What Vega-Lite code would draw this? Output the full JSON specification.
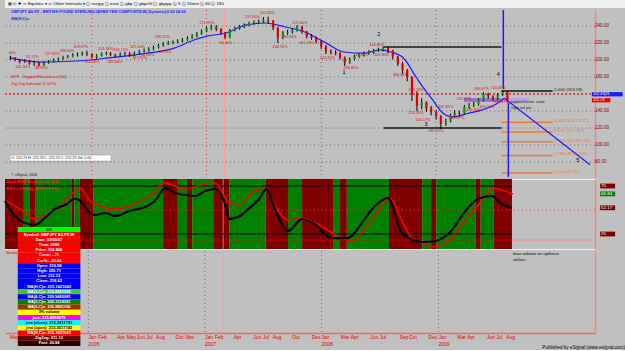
{
"$schema": "https://vega.github.io/schema/vega-lite/v6.json",
"background": "#c0c0c0",
"padding": 0,
"bounds": "flush",
"spacing": 2,
"resolve": {"scale": {"color": "independent"}},
"config": {"view": {"stroke": null}, "font": "Liberation Sans", "axis": {"labelOverlap": false, "labelBound": false}, "axisX": {"labels": false, "ticks": false, "domain": false, "grid": false, "title": null}},
"datasets": {
"px": [
{"d":"2005-04-16","o":203,"h":205,"l":200,"c":202},
{"d":"2005-05-01","o":202,"h":203.5,"l":198.5,"c":200},
{"d":"2005-05-16","o":200,"h":201,"l":196,"c":198},
{"d":"2005-06-01","o":198,"h":201,"l":196.5,"c":199},
{"d":"2005-06-16","o":199,"h":200,"l":194.5,"c":196},
{"d":"2005-07-01","o":196,"h":199,"l":193,"c":197},
{"d":"2005-07-16","o":197,"h":198,"l":192,"c":194},
{"d":"2005-08-01","o":194,"h":198.5,"l":193,"c":197},
{"d":"2005-08-16","o":197,"h":200,"l":195.5,"c":198},
{"d":"2005-09-01","o":198,"h":202,"l":197,"c":200},
{"d":"2005-09-16","o":200,"h":203,"l":198.5,"c":201},
{"d":"2005-10-01","o":201,"h":205,"l":200,"c":203},
{"d":"2005-10-16","o":203,"h":206,"l":202,"c":204},
{"d":"2005-11-01","o":204,"h":208,"l":203,"c":206},
{"d":"2005-11-16","o":206,"h":209,"l":204,"c":206.5},
{"d":"2005-12-01","o":206.5,"h":210,"l":205,"c":208},
{"d":"2005-12-16","o":208,"h":211,"l":204.5,"c":207},
{"d":"2006-01-01","o":207,"h":208,"l":202,"c":203.5},
{"d":"2006-01-16","o":203.5,"h":207,"l":201.5,"c":205},
{"d":"2006-02-01","o":205,"h":209,"l":204,"c":207},
{"d":"2006-02-16","o":207,"h":210,"l":205.5,"c":208},
{"d":"2006-03-01","o":208,"h":209.5,"l":204.5,"c":206},
{"d":"2006-03-16","o":206,"h":207.5,"l":203,"c":205},
{"d":"2006-04-01","o":205,"h":209,"l":204,"c":207},
{"d":"2006-04-16","o":207,"h":210,"l":205,"c":207.5},
{"d":"2006-05-01","o":207.5,"h":209.5,"l":203.5,"c":206},
{"d":"2006-05-16","o":206,"h":210,"l":204.5,"c":208},
{"d":"2006-06-01","o":208,"h":212,"l":206.5,"c":210},
{"d":"2006-06-16","o":210,"h":213.5,"l":208.5,"c":211},
{"d":"2006-07-01","o":211,"h":215,"l":209.5,"c":213},
{"d":"2006-07-16","o":213,"h":217,"l":211.5,"c":215},
{"d":"2006-08-01","o":215,"h":219,"l":213.5,"c":217},
{"d":"2006-08-16","o":217,"h":221,"l":215.5,"c":219},
{"d":"2006-09-01","o":219,"h":222.5,"l":217.5,"c":220},
{"d":"2006-09-16","o":220,"h":223,"l":218.5,"c":221},
{"d":"2006-10-01","o":221,"h":224.5,"l":219.5,"c":222},
{"d":"2006-10-16","o":222,"h":226,"l":220.5,"c":224},
{"d":"2006-11-01","o":224,"h":228,"l":222.5,"c":226},
{"d":"2006-11-16","o":226,"h":230.5,"l":224.5,"c":228},
{"d":"2006-12-01","o":228,"h":233,"l":226.5,"c":231},
{"d":"2006-12-16","o":231,"h":236,"l":229.5,"c":234},
{"d":"2007-01-01","o":234,"h":239.5,"l":232.5,"c":237},
{"d":"2007-01-16","o":237,"h":241.5,"l":235,"c":239},
{"d":"2007-02-01","o":239,"h":241,"l":234,"c":236},
{"d":"2007-02-16","o":236,"h":237.5,"l":230,"c":232},
{"d":"2007-03-01","o":232,"h":233,"l":224.5,"c":227},
{"d":"2007-03-16","o":227,"h":236.5,"l":225.5,"c":235},
{"d":"2007-04-01","o":235,"h":239,"l":233.5,"c":237},
{"d":"2007-04-16","o":237,"h":241,"l":235.5,"c":239},
{"d":"2007-05-01","o":239,"h":243,"l":237.5,"c":241},
{"d":"2007-05-16","o":241,"h":245,"l":239.5,"c":243},
{"d":"2007-06-01","o":243,"h":246.5,"l":241.5,"c":244},
{"d":"2007-06-16","o":244,"h":247.5,"l":242.5,"c":245},
{"d":"2007-07-01","o":245,"h":250.5,"l":243.5,"c":247},
{"d":"2007-07-16","o":247,"h":251,"l":243,"c":246},
{"d":"2007-08-01","o":246,"h":247,"l":235,"c":238},
{"d":"2007-08-16","o":238,"h":239,"l":220,"c":226},
{"d":"2007-09-01","o":226,"h":234,"l":224.5,"c":232},
{"d":"2007-09-16","o":232,"h":235.5,"l":229.5,"c":233},
{"d":"2007-10-01","o":233,"h":237.5,"l":231,"c":235},
{"d":"2007-10-16","o":235,"h":241,"l":233.5,"c":239},
{"d":"2007-11-01","o":239,"h":240,"l":231,"c":233},
{"d":"2007-11-16","o":233,"h":234.5,"l":225.5,"c":228},
{"d":"2007-12-01","o":228,"h":230.5,"l":223.5,"c":226},
{"d":"2007-12-16","o":226,"h":227.5,"l":219.5,"c":222},
{"d":"2008-01-01","o":222,"h":223,"l":213,"c":216},
{"d":"2008-01-16","o":216,"h":217.5,"l":207,"c":210},
{"d":"2008-02-01","o":210,"h":212.5,"l":206.5,"c":209},
{"d":"2008-02-16","o":209,"h":211.5,"l":205.5,"c":208},
{"d":"2008-03-01","o":208,"h":209.5,"l":200.5,"c":203},
{"d":"2008-03-16","o":203,"h":204,"l":193,"c":197},
{"d":"2008-04-01","o":197,"h":203,"l":195.5,"c":201},
{"d":"2008-04-16","o":201,"h":206,"l":199.5,"c":204},
{"d":"2008-05-01","o":204,"h":208,"l":202.5,"c":206},
{"d":"2008-05-16","o":206,"h":210,"l":204,"c":208},
{"d":"2008-06-01","o":208,"h":211.5,"l":206,"c":209},
{"d":"2008-06-16","o":209,"h":213,"l":207,"c":211},
{"d":"2008-07-01","o":211,"h":214.5,"l":209.5,"c":212},
{"d":"2008-07-16","o":212,"h":216,"l":210,"c":214},
{"d":"2008-08-01","o":214,"h":215,"l":208,"c":211},
{"d":"2008-08-16","o":211,"h":212,"l":200.5,"c":204},
{"d":"2008-09-01","o":204,"h":205,"l":193,"c":196},
{"d":"2008-09-16","o":196,"h":197.5,"l":184,"c":188},
{"d":"2008-10-01","o":188,"h":189.5,"l":175,"c":180},
{"d":"2008-10-16","o":180,"h":181,"l":152,"c":160},
{"d":"2008-11-01","o":160,"h":163,"l":140,"c":146},
{"d":"2008-11-16","o":146,"h":155,"l":142,"c":150},
{"d":"2008-12-01","o":150,"h":151.5,"l":139,"c":143},
{"d":"2008-12-16","o":143,"h":146,"l":135,"c":139},
{"d":"2009-01-01","o":139,"h":141,"l":130,"c":134},
{"d":"2009-01-16","o":134,"h":135,"l":119,"c":125},
{"d":"2009-02-01","o":125,"h":131,"l":122.5,"c":128},
{"d":"2009-02-16","o":128,"h":137,"l":126.5,"c":135},
{"d":"2009-03-01","o":135,"h":141,"l":133.5,"c":138},
{"d":"2009-03-16","o":138,"h":140.5,"l":133.5,"c":137},
{"d":"2009-04-01","o":137,"h":147,"l":135.5,"c":145},
{"d":"2009-04-16","o":145,"h":149.5,"l":142.5,"c":147},
{"d":"2009-05-01","o":147,"h":151,"l":144.5,"c":148},
{"d":"2009-05-16","o":148,"h":155,"l":146.5,"c":153},
{"d":"2009-06-01","o":153,"h":162,"l":151.5,"c":160},
{"d":"2009-06-16","o":160,"h":161.5,"l":154.5,"c":157},
{"d":"2009-07-01","o":157,"h":158.5,"l":152,"c":155},
{"d":"2009-07-16","o":155,"h":161,"l":153,"c":159},
{"d":"2009-08-01","o":159,"h":164,"l":157.5,"c":162},
{"d":"2009-08-16","o":162,"h":163.5,"l":151,"c":152.2}
],
"ma": [
{"d":"2005-04-15","v":202.4},{"d":"2005-07-17","v":197.6},{"d":"2005-11-12","v":198.8},{"d":"2006-02-23","v":202.4},{"d":"2006-06-05","v":207},{"d":"2006-09-20","v":214},{"d":"2006-11-22","v":223.5},{"d":"2007-01-02","v":228},{"d":"2007-03-04","v":231.8},{"d":"2007-05-05","v":241},{"d":"2007-07-07","v":243.5},{"d":"2007-09-09","v":238.8},{"d":"2007-11-10","v":233},{"d":"2008-01-12","v":221},{"d":"2008-03-14","v":209.4},{"d":"2008-05-15","v":208},{"d":"2008-07-08","v":211.8},{"d":"2008-08-09","v":209.4},{"d":"2008-09-19","v":202.4},{"d":"2008-10-29","v":180},{"d":"2008-11-20","v":168},{"d":"2008-12-21","v":153},{"d":"2009-01-22","v":137.6},{"d":"2009-02-23","v":133},{"d":"2009-04-16","v":137.6},{"d":"2009-05-26","v":141},{"d":"2009-07-06","v":147},{"d":"2009-08-07","v":155}
],
"trend": [{"d":"2009-08-07","v":155},{"d":"2010-05-06","v":76.9}],
"fib": [
{"v":163.58,"t":"0.000 (163.58)","k":"z"},
{"v":126.71722,"t":"0.382 (126.71722)","k":"f"},
{"v":115.355,"t":"0.500 (115.355)","k":"f"},
{"v":103.99278,"t":"0.618 (103.99278)","k":"f"},
{"v":87.81006,"t":"0.786 (87.81006)","k":"f"},
{"v":67.21,"t":"1.000 (67.21)","k":"f"}
],
"pct": [
{"d":"2005-04-22","p":208,"t":"34%"},
{"d":"2005-06-25","p":203.5,"t":"55.17%"},
{"d":"2005-05-26","p":192,"t":"141.32%"},
{"d":"2005-07-24","p":190.6,"t":"48.90%"},
{"d":"2005-08-28","p":207,"t":"227.87%"},
{"d":"2005-10-14","p":210.6,"t":"188.00%"},
{"d":"2005-11-27","p":215,"t":"209.97%"},
{"d":"2006-01-01","p":197.6,"t":"164.33%"},
{"d":"2006-02-14","p":213,"t":"201.36%"},
{"d":"2006-03-15","p":197.6,"t":"209.46%"},
{"d":"2006-04-03","p":211.8,"t":"226.17%"},
{"d":"2006-05-26","p":215,"t":"147.00%"},
{"d":"2006-06-02","p":202,"t":"167.87%"},
{"d":"2006-06-28","p":206,"t":"68.03%"},
{"d":"2006-08-13","p":227,"t":"249.21%"},
{"d":"2006-08-22","p":209,"t":"58.93%"},
{"d":"2007-01-02","p":243.5,"t":"271.99%"},
{"d":"2007-05-27","p":250.6,"t":"131.60%"},
{"d":"2007-07-13","p":255,"t":"141.60%"},
{"d":"2007-03-04","p":220,"t":"84.40%"},
{"d":"2007-08-23","p":215.3,"t":"446.33%"},
{"d":"2007-10-25","p":243.5,"t":"129.64%"},
{"d":"2007-09-24","p":227,"t":"90.44%"},
{"d":"2007-11-16","p":220,"t":"161.18%"},
{"d":"2008-01-21","p":202,"t":"243.35%"},
{"d":"2008-04-05","p":190.6,"t":"266.80%"},
{"d":"2008-05-06","p":206,"t":"118.30%"},
{"d":"2008-06-26","p":217.6,"t":"164.80%"},
{"d":"2008-07-11","p":206,"t":"226.80%"},
{"d":"2008-09-09","p":182.4,"t":"368.06%"},
{"d":"2008-10-29","p":164.7,"t":"213.13%"},
{"d":"2008-10-29","p":137.6,"t":"270.29%"},
{"d":"2008-11-20","p":129,"t":"145.17%"},
{"d":"2008-12-31","p":116.5,"t":"185.12%"},
{"d":"2009-02-01","p":144.7,"t":"187.82%"},
{"d":"2009-03-08","p":131.8,"t":"169.07%"},
{"d":"2009-03-31","p":154,"t":"155.66%"},
{"d":"2009-05-01","p":141,"t":"149.34%"},
{"d":"2009-05-26","p":166,"t":"249.67%"},
{"d":"2009-07-18","p":167,"t":"720.69%"},
{"d":"2009-06-11","p":145,"t":"160.00%"},
{"d":"2009-07-27","p":150.6,"t":"102.57%"}
],
"nums": [
{"d":"2008-03-14","p":182.4,"t":"1"},{"d":"2008-07-02","p":227,"t":"2"},{"d":"2008-11-30","p":121,"t":"3"},{"d":"2009-07-18","p":180,"t":"4"},{"d":"2010-03-28","p":79,"t":"5"}
],
"blk": [
{"d":"2005-04-15","v":59.4},{"d":"2005-05-16","v":43.8},{"d":"2005-06-16","v":36.5},{"d":"2005-07-17","v":34.4},{"d":"2005-08-18","v":41.7},{"d":"2005-09-18","v":51},{"d":"2005-10-20","v":55.2},{"d":"2005-11-21","v":61.5},{"d":"2005-12-07","v":59.4},{"d":"2006-01-07","v":46.9},{"d":"2006-01-23","v":44.8},{"d":"2006-02-23","v":46.9},{"d":"2006-03-24","v":43.8},{"d":"2006-05-10","v":49},{"d":"2006-06-27","v":53.1},{"d":"2006-07-28","v":59.4},{"d":"2006-08-29","v":72.9},{"d":"2006-09-29","v":67.7},{"d":"2006-10-30","v":65.6},{"d":"2006-12-01","v":64.6},{"d":"2007-01-02","v":69.8},{"d":"2007-02-02","v":71.9},{"d":"2007-03-04","v":57.3},{"d":"2007-03-19","v":40.6},{"d":"2007-04-20","v":43.8},{"d":"2007-05-21","v":52.1},{"d":"2007-06-22","v":62.5},{"d":"2007-07-13","v":71.9},{"d":"2007-08-08","v":51},{"d":"2007-09-18","v":28.1},{"d":"2007-11-01","v":40.6},{"d":"2007-12-05","v":36.5},{"d":"2008-02-03","v":20.8},{"d":"2008-03-23","v":20.8},{"d":"2008-05-06","v":36.5},{"d":"2008-06-16","v":54.2},{"d":"2008-07-27","v":62.5},{"d":"2008-09-09","v":26},{"d":"2008-11-11","v":16.7},{"d":"2008-12-21","v":17.7},{"d":"2009-02-01","v":25},{"d":"2009-04-03","v":52.1},{"d":"2009-05-04","v":61.5},{"d":"2009-06-17","v":64.6},{"d":"2009-07-18","v":56.3},{"d":"2009-08-19","v":52.1}
],
"red": [
{"d":"2005-04-15","v":60.4},{"d":"2005-06-01","v":51},{"d":"2005-07-17","v":40.6},{"d":"2005-09-03","v":46.9},{"d":"2005-10-04","v":54.2},{"d":"2005-11-21","v":69.8},{"d":"2005-12-07","v":72.9},{"d":"2006-01-07","v":59.4},{"d":"2006-03-24","v":51},{"d":"2006-05-10","v":54.2},{"d":"2006-07-12","v":64.6},{"d":"2006-08-29","v":78.1},{"d":"2006-10-30","v":71.9},{"d":"2007-01-02","v":77.1},{"d":"2007-02-02","v":78.1},{"d":"2007-03-19","v":57.3},{"d":"2007-04-20","v":56.3},{"d":"2007-06-06","v":69.8},{"d":"2007-07-13","v":71.9},{"d":"2007-08-08","v":54.2},{"d":"2007-09-18","v":39.6},{"d":"2007-11-01","v":41.7},{"d":"2007-12-21","v":35.4},{"d":"2008-02-13","v":24},{"d":"2008-04-05","v":17.7},{"d":"2008-05-15","v":30.2},{"d":"2008-06-26","v":49},{"d":"2008-08-02","v":62.5},{"d":"2008-09-09","v":38.5},{"d":"2008-10-10","v":20.8},{"d":"2008-11-20","v":14.6},{"d":"2008-12-21","v":11.5},{"d":"2009-02-01","v":17.7},{"d":"2009-03-24","v":38.5},{"d":"2009-05-16","v":59.4},{"d":"2009-06-20","v":72.9},{"d":"2009-07-27","v":69.8},{"d":"2009-08-22","v":66.7}
],
"stripes": [
{"a":"2005-04-15","b":"2005-06-13","c":"R"},{"a":"2005-06-13","b":"2005-07-02","c":"G"},{"a":"2005-07-02","b":"2005-07-20","c":"R"},{"a":"2005-07-20","b":"2005-11-09","c":"G"},{"a":"2005-11-09","b":"2005-11-18","c":"R"},{"a":"2005-11-18","b":"2005-12-04","c":"G"},{"a":"2005-12-04","b":"2006-01-16","c":"R"},{"a":"2006-01-16","b":"2006-08-23","c":"G"},{"a":"2006-08-23","b":"2006-10-08","c":"R"},{"a":"2006-10-08","b":"2006-11-06","c":"G"},{"a":"2006-11-06","b":"2006-11-22","c":"R"},{"a":"2006-11-22","b":"2007-01-27","c":"G"},{"a":"2007-01-27","b":"2007-03-19","c":"R"},{"a":"2007-03-19","b":"2007-07-10","c":"G"},{"a":"2007-07-10","b":"2007-09-18","c":"R"},{"a":"2007-09-18","b":"2007-11-01","c":"G"},{"a":"2007-11-01","b":"2008-02-06","c":"R"},{"a":"2008-02-06","b":"2008-02-28","c":"G"},{"a":"2008-02-28","b":"2008-03-20","c":"R"},{"a":"2008-03-20","b":"2008-07-30","c":"G"},{"a":"2008-07-30","b":"2008-11-11","c":"R"},{"a":"2008-11-11","b":"2008-12-09","c":"G"},{"a":"2008-12-09","b":"2008-12-25","c":"R"},{"a":"2008-12-25","b":"2009-04-28","c":"G"},{"a":"2009-04-28","b":"2009-05-13","c":"R"},{"a":"2009-05-13","b":"2009-06-23","c":"G"},{"a":"2009-06-23","b":"2009-08-19","c":"R"}
],
"popup": [
{"i":1,"t":"OK","b":"ok"},{"i":2,"t":"Symbol: GBPJPY A0-FX,W","b":"red"},{"i":3,"t":"Date: 03/05/07","b":"red"},{"i":4,"t":"Time: 0000","b":"red"},{"i":5,"t":"Price: 118.806","b":"red"},{"i":6,"t":"Cursr: -.71","b":"red"},{"i":7,"t":"Cur%: -20.44","b":"red"},{"i":8,"t":"Open: 219.58","b":"blue"},{"i":9,"t":"High: 220.71","b":"blue"},{"i":10,"t":"Low: 211.13","b":"blue"},{"i":11,"t":"Close: 218.62","b":"blue"},{"i":12,"t":"MA(H,C)x: 215.1621643","b":"blue"},{"i":13,"t":"MA(3,C)x: 216.8661556","b":"lgreen"},{"i":14,"t":"MA(4,C)x: 220.9460081","b":"blue2"},{"i":15,"t":"MA(5,C)x: 222.3119181","b":"dgreen"},{"i":16,"t":"MA(6,C)x: 216.8801156","b":"brown"},{"i":17,"t":"3% volume","b":"yellow"},{"i":18,"t":"jma: 215.4994678","b":"magenta"},{"i":19,"t":"jma (close): 215.2411783","b":"cyan"},{"i":20,"t":"jma (open): 215.3517743","b":"yellow"},{"i":21,"t":"MA(H,C)x: 215.3621643","b":"red"},{"i":22,"t":"ZigZag: 211.13","b":"maroon"},{"i":23,"t":"Fast: 26.84","b":"dark"}
],
"pbox": [
{"a":"2010-05-12","b":"2010-08-18","y1":157.2,"y2":162.2,"m":159.8,"t":"152.43|21","k":"blue"},
{"a":"2010-05-12","b":"2010-07-10","y1":150.2,"y2":155.2,"m":152.7,"t":"152.23","k":"red"}
],
"obox": [
{"y1":72.5,"y2":77.5,"m":75,"t":"75","k":"black"},
{"y1":64.3,"y2":69.3,"m":66.8,"t":"66.84","k":"red"},
{"y1":49.8,"y2":54.8,"m":52.3,"t":"52.17","k":"black"},
{"y1":22.5,"y2":27.5,"m":25,"t":"25","k":"black"}
],
"plab": [{"p":80},{"p":100},{"p":120},{"p":140},{"p":180},{"p":200},{"p":220},{"p":240}],
"pgrid": [{"p":80},{"p":100},{"p":120},{"p":140},{"p":160},{"p":180},{"p":200},{"p":220},{"p":240}],
"months": [
{"d":"2005-05-01"},{"d":"2006-01-01"},{"d":"2006-02-01"},{"d":"2006-04-01"},{"d":"2006-05-01"},{"d":"2006-06-01"},{"d":"2006-07-01"},{"d":"2006-08-01"},{"d":"2006-10-01"},{"d":"2006-11-01"},{"d":"2007-01-01"},{"d":"2007-02-01"},{"d":"2007-04-01"},{"d":"2007-06-01"},{"d":"2007-07-01"},{"d":"2007-08-01"},{"d":"2007-10-01"},{"d":"2007-12-01"},{"d":"2008-01-01"},{"d":"2008-03-01"},{"d":"2008-04-01"},{"d":"2008-06-01"},{"d":"2008-07-01"},{"d":"2008-09-01"},{"d":"2008-10-01"},{"d":"2008-12-01"},{"d":"2009-01-01"},{"d":"2009-03-01"},{"d":"2009-04-01"},{"d":"2009-06-01"},{"d":"2009-07-01"},{"d":"2009-08-01"}
]
},
"vconcat": [
{
"width": 625, "height": 8,
"view": {"fill": "#f0f0f0", "stroke": null},
"data": {"values": [{"t": "▦ ⎘ ✚   ▭ Equities ▾    ▭ Other Intervals ▾    ⓘ eurjpy    ⓘ euro    ⓘ gbp    ⓘ gbpchf    ⓘ gbpjpy    ⓢ 5    ⓢ 15min    ⓢ 60    ⓢ 180"}]},
"mark": {"type": "text", "align": "left", "baseline": "middle", "fontSize": 4.4, "color": "#000000", "dx": 3},
"encoding": {
"text": {"field": "t"},
"x": {"datum": 0, "type": "quantitative", "scale": {"domain": [0, 1]}, "axis": null},
"y": {"datum": 0.5, "type": "quantitative", "scale": {"domain": [0, 1]}, "axis": null}
}
},
{
"width": 590, "height": 167,
"view": {"fill": "#c0c0c0", "stroke": null},
"layer": [
{"data": {"name": "pgrid"}, "mark": {"type": "rule", "color": "#6a6a6a", "strokeDash": [1, 3], "strokeWidth": 1},
 "encoding": {"y": {"field": "p", "type": "quantitative", "scale": {"domain": [62.4, 258.8], "nice": false, "zero": false},
   "axis": {"orient": "right", "labels": false, "ticks": false, "domain": true, "domainColor": "#ff8080", "domainWidth": 1.5, "grid": false, "title": null}}}},
{"data": {"values": [{"d":"2006-01-01"},{"d":"2007-01-01"},{"d":"2008-01-01"},{"d":"2009-01-01"}]},
 "mark": {"type": "rule", "strokeDash": [1, 3], "strokeWidth": 1},
 "encoding": {"x": {"field": "d", "type": "temporal", "scale": {"domain": [{"year":2005,"month":4,"date":15},{"year":2010,"month":5,"date":6}]}},
  "color": {"condition": {"test": "year(datum.d) < 2008", "value": "#c05050"}, "value": "#707070"}}},
{"data": {"values": [{}]}, "mark": {"type": "rule", "color": "#ff9a9a", "strokeWidth": 1},
 "encoding": {"x": {"datum": {"year":2007,"month":2,"date":27}, "type": "temporal"}}},
{"data": {"values": [{}]}, "mark": {"type": "rule", "color": "#e00000", "strokeDash": [2, 2]},
 "encoding": {"y": {"datum": 160, "type": "quantitative"}}},
{"data": {"values": [{}]}, "mark": {"type": "rect", "color": "#9b6fd6"},
 "encoding": {"x": {"datum": {"year":2009,"month":3,"date":31}, "type": "temporal"}, "x2": {"datum": {"year":2009,"month":8,"date":1}},
  "y": {"datum": 150.6, "type": "quantitative"}, "y2": {"datum": 155.3}}},
{"data": {"values": [{}]}, "mark": {"type": "rect", "color": "#b9a0e6"},
 "encoding": {"x": {"datum": {"year":2009,"month":8,"date":1}, "type": "temporal"}, "x2": {"datum": {"year":2009,"month":10,"date":23}},
  "y": {"datum": 150.6, "type": "quantitative"}, "y2": {"datum": 155.3}}},
{"data": {"values": [{"v": 215.3}, {"v": 120}]}, "mark": {"type": "rule", "color": "#1a1a1a", "strokeWidth": 1.6},
 "encoding": {"x": {"datum": {"year":2008,"month":7,"date":18}, "type": "temporal"}, "x2": {"datum": {"year":2009,"month":7,"date":28}},
  "y": {"field": "v", "type": "quantitative"}}},
{"data": {"name": "fib"}, "mark": {"type": "rule", "strokeWidth": 1.5},
 "encoding": {"x": {"datum": {"year":2009,"month":7,"date":28}, "type": "temporal"}, "x2": {"datum": {"year":2010,"month":1,"date":7}},
  "y": {"field": "v", "type": "quantitative"},
  "color": {"condition": {"test": "datum.k == 'z'", "value": "#111111"}, "value": "#f07a30"}}},
{"data": {"name": "fib"}, "mark": {"type": "text", "align": "left", "baseline": "middle", "fontSize": 4.3, "dx": 1, "dy": -1},
 "encoding": {"x": {"datum": {"year":2010,"month":1,"date":9}, "type": "temporal"},
  "y": {"field": "v", "type": "quantitative"}, "text": {"field": "t"},
  "color": {"condition": {"test": "datum.k == 'z'", "value": "#111111"}, "value": "#f07a30"}}},
{"data": {"name": "ma"}, "mark": {"type": "line", "color": "#1a1aff", "strokeWidth": 1.2, "interpolate": "monotone"},
 "encoding": {"x": {"field": "d", "type": "temporal"}, "y": {"field": "v", "type": "quantitative"}}},
{"data": {"name": "trend"}, "mark": {"type": "line", "color": "#1a1aff", "strokeWidth": 1.2},
 "encoding": {"x": {"field": "d", "type": "temporal"}, "y": {"field": "v", "type": "quantitative"}}},
{"data": {"name": "px"}, "mark": {"type": "rule", "color": "#000000", "strokeWidth": 1},
 "encoding": {"x": {"field": "d", "type": "temporal"}, "y": {"field": "l", "type": "quantitative"}, "y2": {"field": "h"}}},
{"data": {"name": "px"}, "mark": {"type": "bar", "size": 2.2},
 "encoding": {"x": {"field": "d", "type": "temporal"},
  "y": {"field": "o", "type": "quantitative"}, "y2": {"field": "c"},
  "color": {"condition": {"test": "datum.c >= datum.o", "value": "#00a000"}, "value": "#e00000"}}},
{"data": {"values": [{}]}, "mark": {"type": "rule", "color": "#1a1aff", "strokeWidth": 1.5},
 "encoding": {"x": {"datum": {"year":2009,"month":8,"date":3}, "type": "temporal"},
  "y": {"datum": 258.8, "type": "quantitative"}, "y2": {"datum": 166}}},
{"data": {"values": [{}]}, "mark": {"type": "rule", "color": "#1a1aff", "strokeWidth": 1.5},
 "encoding": {"x": {"datum": {"year":2009,"month":8,"date":19}, "type": "temporal"},
  "y": {"datum": 150, "type": "quantitative"}, "y2": {"datum": 62.4}}},
{"data": {"name": "pct"}, "mark": {"type": "text", "color": "#e00000", "fontSize": 3.8, "align": "center", "baseline": "middle"},
 "encoding": {"x": {"field": "d", "type": "temporal"}, "y": {"field": "p", "type": "quantitative"}, "text": {"field": "t"}}},
{"data": {"name": "nums"}, "mark": {"type": "text", "color": "#000000", "fontSize": 5.5, "align": "center", "baseline": "bottom"},
 "encoding": {"x": {"field": "d", "type": "temporal"}, "y": {"field": "p", "type": "quantitative"}, "text": {"field": "t"}}},
{"data": {"values": [{"d":"2005-04-16","p":256.5,"t":"GBPJPY A0-FX - BRITISH POUND STERLING/JAPAN YEN COMPOSITE,W| Dynamic|,0:00 24:00"},{"d":"2005-04-16","p":248.2,"t":"MA(H,C)x"}]},
 "mark": {"type": "text", "color": "#1a1aff", "fontSize": 3.9, "fontWeight": "bold", "align": "left", "baseline": "middle", "dx": 1},
 "encoding": {"x": {"field": "d", "type": "temporal"}, "y": {"field": "p", "type": "quantitative"}, "text": {"field": "t"}}},
{"data": {"values": [{"d":"2005-04-16","p":180,"t":"MTF - Support/Resistance (60)"},{"d":"2005-04-16","p":171.8,"t":"Zig Zag Indicator (1.50%)"}]},
 "mark": {"type": "text", "color": "#e00000", "fontSize": 4, "align": "left", "baseline": "middle", "dx": 1},
 "encoding": {"x": {"field": "d", "type": "temporal"}, "y": {"field": "p", "type": "quantitative"}, "text": {"field": "t"}}},
{"data": {"values": [{"d":"2009-08-28","p":143.5,"t":"high vol pin"},{"d":"2009-08-24","p":150.5,"t":"support/resist. zone"}]},
 "mark": {"type": "text", "color": "#202020", "fontSize": 4, "align": "left", "baseline": "middle"},
 "encoding": {"x": {"field": "d", "type": "temporal"}, "y": {"field": "p", "type": "quantitative"}, "text": {"field": "t"}}},
{"data": {"values": [{}]}, "mark": {"type": "rect", "color": "#ffffff", "stroke": "#909090", "strokeWidth": 0.5},
 "encoding": {"x": {"datum": {"year":2005,"month":4,"date":15}, "type": "temporal"}, "x2": {"datum": {"year":2006,"month":3,"date":3}},
  "y": {"datum": 81.2, "type": "quantitative"}, "y2": {"datum": 88.2}}},
{"data": {"values": [{"d":"2005-04-16","p":84.7,"t":"O: 152.23    H: 152.23    L: 152.23    C: 152.23    Vol: 0.00"},{"d":"2005-04-16","p":64.7,"t":"© eSignal, 2008"}]},
 "mark": {"type": "text", "color": "#202020", "fontSize": 3.6, "align": "left", "baseline": "middle", "dx": 1},
 "encoding": {"x": {"field": "d", "type": "temporal"}, "y": {"field": "p", "type": "quantitative"}, "text": {"field": "t"}}},
{"data": {"name": "plab"}, "mark": {"type": "text", "color": "#8b0000", "fontSize": 4.6, "align": "left", "baseline": "middle", "dx": 5},
 "encoding": {"x": {"datum": {"year":2010,"month":5,"date":6}, "type": "temporal"}, "y": {"field": "p", "type": "quantitative"}, "text": {"field": "p", "type": "quantitative", "format": ".2f"}}},
{"data": {"name": "pbox"}, "mark": {"type": "rect"},
 "encoding": {"x": {"field": "a", "type": "temporal"}, "x2": {"field": "b"},
  "y": {"field": "y1", "type": "quantitative"}, "y2": {"field": "y2"},
  "color": {"field": "k", "type": "nominal", "scale": {"domain": ["blue", "red"], "range": ["#1a1aff", "#ee0000"]}, "legend": null}}},
{"data": {"name": "pbox"}, "mark": {"type": "text", "color": "#ffffff", "fontSize": 3.8, "align": "left", "baseline": "middle", "dx": 1},
 "encoding": {"x": {"field": "a", "type": "temporal"}, "y": {"field": "m", "type": "quantitative"}, "text": {"field": "t"}}}
]
},
{
"width": 590, "height": 70,
"view": {"fill": "#c0c0c0", "stroke": "#f4f4f4", "strokeWidth": 1},
"layer": [
{"data": {"name": "stripes"}, "mark": {"type": "rect"},
 "encoding": {"x": {"field": "a", "type": "temporal", "scale": {"domain": [{"year":2005,"month":4,"date":15},{"year":2010,"month":5,"date":6}]}},
  "x2": {"field": "b"},
  "color": {"field": "c", "type": "nominal", "scale": {"domain": ["R", "G"], "range": ["#800000", "#008000"]}, "legend": null}}},
{"data": {"values": [{}]}, "mark": {"type": "rule", "color": "#ff9a9a", "strokeWidth": 1, "opacity": 0.7},
 "encoding": {"x": {"datum": {"year":2007,"month":2,"date":27}, "type": "temporal"}}},
{"data": {"values": [{"v": 75}, {"v": 25}]}, "mark": {"type": "rule", "color": "#000000", "strokeWidth": 1},
 "encoding": {"x": {"datum": {"year":2005,"month":4,"date":15}, "type": "temporal"}, "x2": {"datum": {"year":2009,"month":8,"date":19}},
  "y": {"field": "v", "type": "quantitative", "scale": {"domain": [9.4, 82.3], "nice": false, "zero": false},
   "axis": {"orient": "right", "labels": false, "ticks": false, "domain": true, "domainColor": "#ff8080", "domainWidth": 1.5, "grid": false, "title": null}}}},
{"data": {"values": [{"v": 50}, {"v": 18.75}]}, "mark": {"type": "rule", "color": "#ff3030", "strokeDash": [1, 3]},
 "encoding": {"y": {"field": "v", "type": "quantitative"}}},
{"data": {"name": "red"}, "mark": {"type": "line", "color": "#ff0000", "strokeWidth": 1.5, "interpolate": "monotone"},
 "encoding": {"x": {"field": "d", "type": "temporal"}, "y": {"field": "v", "type": "quantitative"}}},
{"data": {"name": "blk"}, "mark": {"type": "line", "color": "#000000", "strokeWidth": 2.2, "interpolate": "monotone"},
 "encoding": {"x": {"field": "d", "type": "temporal"}, "y": {"field": "v", "type": "quantitative"}}},
{"data": {"values": [{"d":"2005-04-16","v":79.2,"t":"Jurik RSX Divergence (21)"},{"d":"2005-04-16","v":72.4,"t":"RSX + trailing SMA(11,2,0,)"}]},
 "mark": {"type": "text", "color": "#ff2020", "fontSize": 4.2, "fontWeight": "bold", "align": "left", "baseline": "middle", "dx": 1},
 "encoding": {"x": {"field": "d", "type": "temporal"}, "y": {"field": "v", "type": "quantitative"}, "text": {"field": "t"}}},
{"data": {"name": "obox"}, "mark": {"type": "rect"},
 "encoding": {"x": {"datum": {"year":2010,"month":5,"date":22}, "type": "temporal"}, "x2": {"datum": {"year":2010,"month":7,"date":8}},
  "y": {"field": "y1", "type": "quantitative"}, "y2": {"field": "y2"},
  "color": {"field": "k", "type": "nominal", "scale": {"domain": ["black", "red"], "range": ["#000000", "#ee0000"]}, "legend": null}}},
{"data": {"name": "obox"}, "mark": {"type": "text", "color": "#ffffff", "fontSize": 4.4, "align": "left", "baseline": "middle", "dx": 1},
 "encoding": {"x": {"datum": {"year":2010,"month":5,"date":22}, "type": "temporal"}, "y": {"field": "m", "type": "quantitative"}, "text": {"field": "t"}}}
]
},
{
"width": 590, "height": 82,
"view": {"fill": "#c0c0c0", "stroke": null},
"resolve": {"scale": {"y": "independent"}, "axis": {"y": "independent"}},
"layer": [
{"layer": [
 {"data": {"values": [{"d":"2006-01-01"},{"d":"2007-01-01"},{"d":"2008-01-01"},{"d":"2009-01-01"}]},
  "mark": {"type": "rule", "strokeDash": [1, 3], "strokeWidth": 1},
  "encoding": {"x": {"field": "d", "type": "temporal", "scale": {"domain": [{"year":2005,"month":4,"date":15},{"year":2010,"month":5,"date":6}]},
    "axis": {"labels": false, "domain": true, "domainColor": "#ff6060", "domainWidth": 1.5, "ticks": false, "grid": false, "title": null}},
   "color": {"condition": {"test": "year(datum.d) < 2008", "value": "#c05050"}, "value": "#707070"}}},
 {"data": {"values": [{}]}, "mark": {"type": "rule", "color": "#ff9a9a", "strokeWidth": 1},
  "encoding": {"x": {"datum": {"year":2007,"month":2,"date":27}, "type": "temporal"}}},
 {"data": {"name": "months"}, "mark": {"type": "text", "color": "#e00000", "fontSize": 5, "align": "left", "baseline": "top", "dy": 2},
  "encoding": {"x": {"field": "d", "type": "temporal"},
   "y": {"datum": 0, "type": "quantitative"},
   "text": {"field": "d", "type": "temporal", "timeUnit": "yearmonth", "format": "%b"}}},
 {"data": {"name": "months"}, "transform": [{"filter": {"field": "d", "timeUnit": "month", "equal": 1}}],
  "mark": {"type": "text", "color": "#e00000", "fontSize": 5, "align": "left", "baseline": "top", "dy": 8.5},
  "encoding": {"x": {"field": "d", "type": "temporal"},
   "y": {"datum": 0, "type": "quantitative"},
   "text": {"field": "d", "type": "temporal", "timeUnit": "year", "format": "%Y"}}},
 {"data": {"values": [{"d":"2009-08-19","p":96.3,"t":"max volume on upthrust"},{"d":"2009-08-19","p":89,"t":"sellers"},{"d":"2005-04-16","p":97.3,"t":"Better"}]},
  "mark": {"type": "text", "fontSize": 4.3, "align": "left", "baseline": "middle", "dx": 1},
  "encoding": {"x": {"field": "d", "type": "temporal"},
   "y": {"field": "p", "type": "quantitative", "scale": {"domain": [0, 100], "nice": false, "zero": false},
    "axis": {"orient": "right", "labels": false, "ticks": false, "grid": false, "domain": true, "domainColor": "#ff8080", "domainWidth": 1.5, "title": null}},
   "text": {"field": "t"},
   "color": {"condition": {"test": "datum.t == 'Better'", "value": "#e00000"}, "value": "#000000"}}},
 {"data": {"values": [{"d":"2010-05-06","p":-18,"t":"Published by eSignal (www.esignal.com)"}]},
  "mark": {"type": "text", "fontSize": 4.6, "align": "right", "baseline": "middle", "dx": 30, "color": "#000000"},
  "encoding": {"x": {"field": "d", "type": "temporal"}, "y": {"field": "p", "type": "quantitative"}, "text": {"field": "t"}}}
]},
{"layer": [
 {"data": {"name": "popup"}, "mark": {"type": "rect"},
  "encoding": {"x": {"datum": {"year":2005,"month":5,"date":25}, "type": "temporal"}, "x2": {"datum": {"year":2005,"month":12,"date":7}},
   "y": {"field": "i", "type": "ordinal", "scale": {"type": "band", "range": [-24, 95], "paddingInner": 0, "paddingOuter": 0}, "axis": null},
   "color": {"field": "b", "type": "nominal", "scale": {"domain": ["ok","red","blue","lgreen","blue2","dgreen","brown","yellow","magenta","cyan","maroon","dark"], "range": ["#00ff00","#ff0000","#0000ff","#33cc33","#0000ee","#008800","#993300","#ffff00","#ff00ff","#00ffff","#6b0000","#300000"]}, "legend": null}}},
 {"data": {"name": "popup"}, "mark": {"type": "text", "fontSize": 4, "fontWeight": "bold", "align": "center", "baseline": "middle"},
  "encoding": {"x": {"datum": {"year":2005,"month":8,"date":31}, "type": "temporal"},
   "y": {"field": "i", "type": "ordinal", "axis": null},
   "text": {"field": "t"},
   "color": {"condition": {"test": "indexof(['ok','yellow','cyan'], datum.b) >= 0", "value": "#000000"}, "value": "#ffffff"}}}
]}
]
}
]
}
